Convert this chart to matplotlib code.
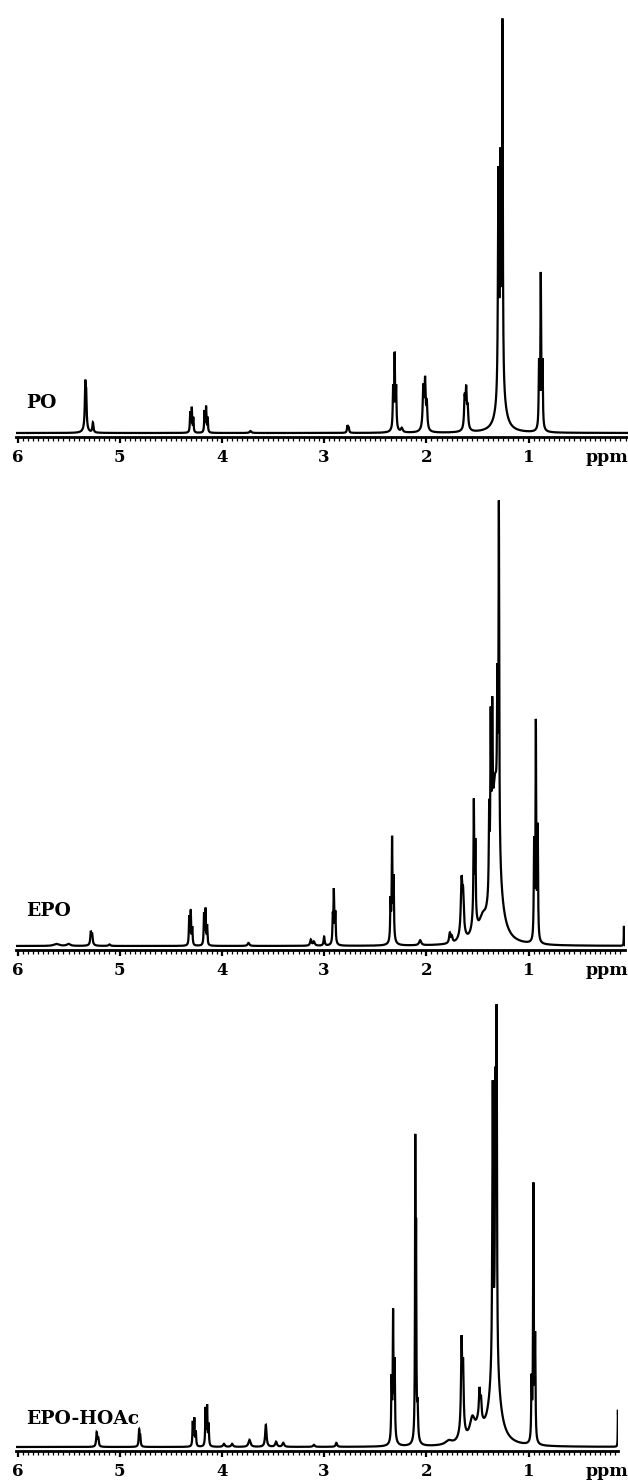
import numpy as np
import matplotlib
matplotlib.use('Agg')
import matplotlib.pyplot as plt
from matplotlib.ticker import MultipleLocator

plt.rcParams['font.family'] = ['DejaVu Serif']
plt.rcParams['font.weight'] = 'bold'

# ── peak tables: centre (ppm), height, half-width (ppm) ─────────────
po_ppm    = [5.337, 5.328, 5.335, 5.262, 4.310, 4.295, 4.280, 4.170, 4.155, 4.140,
             3.72, 2.772, 2.760, 2.325, 2.310, 2.295, 2.310, 2.24,
             2.030, 2.012, 1.995, 2.020, 1.625, 1.610, 1.595, 1.610,
             1.255, 1.275, 1.295, 1.270, 0.897, 0.880, 0.863, 0.880]
po_height = [40, 30, 6, 10, 20, 24, 14, 21, 25, 14,
             2, 7, 5, 38, 68, 38, 8, 4,
             36, 42, 24, 10, 28, 33, 18, 8,
             355, 210, 215, 50, 62, 148, 62, 6]
po_width  = [0.005, 0.005, 0.02, 0.006, 0.004, 0.004, 0.004, 0.004, 0.004, 0.004,
             0.01, 0.005, 0.005, 0.004, 0.004, 0.004, 0.02, 0.01,
             0.006, 0.006, 0.006, 0.02, 0.006, 0.006, 0.006, 0.02,
             0.004, 0.005, 0.005, 0.04, 0.004, 0.004, 0.004, 0.02]

epo_ppm    = [5.62, 5.50, 5.283, 5.270, 5.275, 5.10,
              4.320, 4.305, 4.290, 4.175, 4.160, 4.145, 3.74,
              3.13, 3.10, 3.00, 2.915, 2.905, 2.890, 2.900,
              2.350, 2.335, 2.320, 2.330, 2.06, 1.77, 1.75,
              1.655, 1.640, 1.650, 1.535, 1.520, 1.530, 1.450,
              1.385, 1.370, 1.355, 1.330, 1.290, 1.305, 1.310,
              0.945, 0.928, 0.910, 0.066]
epo_height = [2, 2, 11, 8, 4, 1.5,
              28, 33, 17, 31, 35, 19, 3,
              6, 4, 9, 24, 48, 28, 5,
              38, 96, 58, 8, 5, 10, 6,
              47, 34, 12, 112, 70, 22, 15,
              80, 150, 130, 110, 340, 130, 55,
              95, 215, 110, 20]
epo_width  = [0.03, 0.02, 0.005, 0.005, 0.015, 0.01,
              0.004, 0.004, 0.004, 0.004, 0.004, 0.004, 0.01,
              0.008, 0.01, 0.006, 0.004, 0.004, 0.004, 0.015,
              0.004, 0.004, 0.004, 0.02, 0.012, 0.008, 0.008,
              0.008, 0.008, 0.025, 0.004, 0.004, 0.025, 0.04,
              0.004, 0.004, 0.004, 0.035, 0.004, 0.004, 0.05,
              0.004, 0.004, 0.004, 0.002]

hoac_ppm    = [5.225, 5.210, 4.810, 4.800,
               4.285, 4.270, 4.255, 4.160, 4.145, 4.130,
               3.98, 3.90, 3.73, 3.57, 3.47, 3.40, 3.10, 2.88,
               2.340, 2.325, 2.310, 2.320,
               2.108, 2.100, 2.085, 2.100, 1.78,
               1.655, 1.640, 1.650, 1.550, 1.480, 1.465, 1.480,
               1.350, 1.325, 1.312, 1.330,
               0.970, 0.952, 0.935, 0.125]
hoac_height = [14, 8, 16, 10,
               24, 27, 14, 37, 39, 21,
               3, 3, 7, 22, 5, 4, 2, 4,
               58, 120, 72, 10,
               280, 180, 30, 10, 4,
               84, 58, 15, 20, 26, 18, 18,
               277, 250, 335, 90,
               58, 255, 100, 37]
hoac_width  = [0.006, 0.006, 0.005, 0.005,
               0.004, 0.004, 0.004, 0.004, 0.004, 0.004,
               0.01, 0.01, 0.012, 0.008, 0.01, 0.01, 0.01, 0.008,
               0.004, 0.004, 0.004, 0.02,
               0.003, 0.003, 0.005, 0.02, 0.04,
               0.006, 0.006, 0.03, 0.03, 0.006, 0.006, 0.04,
               0.005, 0.004, 0.004, 0.05,
               0.004, 0.004, 0.004, 0.002]

sample_names = ['PO', 'EPO', 'EPO-HOAc']
ppm_ticks    = [6, 5, 4, 3, 2, 1]


def spectrum(ppm, centres, heights, widths):
    """Sum of Lorentzian lines on a common ppm grid."""
    y = np.zeros_like(ppm)
    for c, h, w in zip(centres, heights, widths):
        y += h * w**2 / ((ppm - c)**2 + w**2)
    return y


# ── layout in pixels (figure is 628 x 1480) ────────────────────────
W, H = 628, 1480
PX_PER_PPM = 102.2
X6 = 17.5                       # pixel column of the 6 ppm tick


def to_ppm(x):
    return 6 - (x - X6) / PX_PER_PPM


fig = plt.figure(figsize=(W / 100, H / 100), dpi=100)

panels = [
    # (peaks, top px, ruler px, right px, label y px)
    ((po_ppm, po_height, po_width),       0,   437, 628, 403),
    ((epo_ppm, epo_height, epo_width),    470, 950, 625, 911),
    ((hoac_ppm, hoac_height, hoac_width), 980, 1451, 618, 1419),
]

for name, (peaks, top, bottom, right, label_y) in zip(sample_names, panels):
    ax = fig.add_axes([16 / W, 1 - bottom / H, (right - 16) / W, (bottom - top) / H])
    lo = to_ppm(right)
    ppm = np.linspace(6.03, lo, 16000)
    y = spectrum(ppm, *peaks)
    ax.plot(ppm, y, color='black', lw=1.6, solid_joinstyle='miter')

    ax.set_xlim(to_ppm(16), lo)
    ax.set_ylim(-4, bottom - top - 4)

    for side in ['top', 'left', 'right']:
        ax.spines[side].set_visible(False)
    ax.spines['bottom'].set_linewidth(2)
    ax.set_yticks([])
    ax.xaxis.set_major_locator(MultipleLocator(1))
    ax.xaxis.set_minor_locator(MultipleLocator(0.05))
    ax.set_xticks(ppm_ticks)
    ax.set_xticklabels([str(t) for t in ppm_ticks])
    ax.tick_params(axis='x', which='major', direction='out', length=4.5,
                   width=1.6, pad=4, labelsize=12)
    ax.tick_params(axis='x', which='minor', direction='out', length=3,
                   width=0.9)
    for lab in ax.get_xticklabels():
        lab.set_fontweight('bold')

    ax.annotate('ppm', xy=(to_ppm(586), 0), xycoords=ax.get_xaxis_transform(),
                xytext=(0, -8.5), textcoords='offset points',
                ha='left', va='top', fontsize=12.5, fontweight='bold',
                annotation_clip=False)

    fig.text(26 / W, 1 - label_y / H, name, ha='left', va='center',
             fontsize=13.5, fontweight='bold')

fig.savefig('out.png', dpi=100)
